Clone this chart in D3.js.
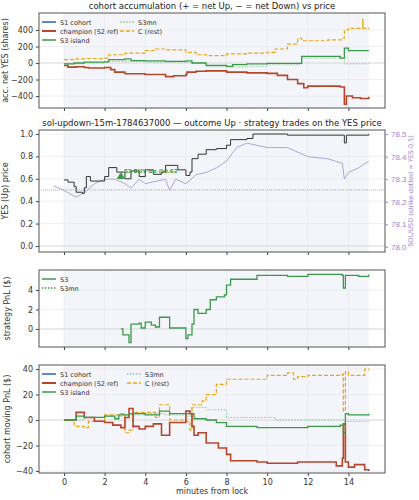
<!DOCTYPE html>
<html><head><meta charset="utf-8">
<script src="https://cdn.jsdelivr.net/npm/d3@7"></script>
<style>body{margin:0;background:#fff;font-family:"DejaVu Sans",sans-serif}</style>
</head><body><svg id="c" width="419" height="500"></svg>
<script>
// ---- data ----
const xTicks=[0,2,4,6,8,10,12,14];
const accChampion=[[0,-30],[0.2,-50],[0.6,-45],[1,-55],[1.2,-60],[2,-55],[2.3,-80],[2.5,-110],[3,-130],[4,-140],[5,-165],[5.4,-155],[6,-140],[6.05,-110],[6.5,-100],[7,-95],[8,-110],[9,-120],[10,-125],[10.5,-150],[11,-200],[11.5,-250],[11.8,-300],[12,-280],[13.6,-290],[13.8,-500],[13.9,-400],[14.2,-420],[14.6,-430],[15,-410]];
const accS3=[[0,-10],[0.5,0],[1,10],[2,15],[2.2,40],[3,50],[3.3,30],[4,25],[5,20],[6,25],[6.3,0],[7,-30],[8,-40],[8.3,-20],[9,-10],[10,-5],[11.6,-5],[11.7,80],[13,80],[13.6,60],[13.8,180],[14,150],[15,150]];
const accS3mn=[[0,-10],[1,0],[2,20],[3,20],[4,10],[6,10],[6.3,0],[7,-30],[8,-50],[9,-40],[10,-20],[11.6,-10],[11.7,60],[13,60],[13.8,-10],[15,-10]];
const accC=[[0,40],[0.5,50],[1,55],[2,60],[2.2,100],[3,120],[4,150],[4.5,170],[5,160],[6,130],[6.5,100],[7,90],[8,110],[9,120],[10,130],[10.4,170],[11,230],[11.5,300],[11.7,270],[13,280],[13.7,300],[13.8,400],[14,420],[14.7,530],[14.72,420],[15,410]];
const yesPrice=[[0,0.59],[0.2,0.57],[0.5,0.53],[0.6,0.48],[0.9,0.47],[1,0.52],[1.1,0.62],[1.3,0.58],[2,0.62],[2.2,0.7],[2.6,0.66],[3,0.6],[3.3,0.67],[3.7,0.62],[4,0.68],[4.4,0.64],[4.8,0.66],[5,0.72],[5.6,0.68],[6,0.63],[6.2,0.66],[6.3,0.78],[6.6,0.82],[7,0.86],[7.5,0.87],[8,0.9],[8.2,0.95],[9,0.96],[9.3,1.0],[11,0.99],[12,0.99],[13.8,0.92],[13.9,0.99],[15,1.0]];
const solPrice=[[-0.5,78.27],[0,78.25],[0.6,78.22],[1,78.24],[1.5,78.28],[2,78.3],[2.5,78.3],[3,78.28],[3.3,78.26],[3.7,78.3],[4,78.28],[5,78.3],[5.2,78.25],[5.5,78.3],[6,78.28],[6.5,78.32],[7,78.33],[7.5,78.35],[8,78.38],[8.5,78.44],[9,78.46],[9.5,78.45],[10,78.44],[11,78.44],[11.5,78.42],[12,78.4],[13,78.39],[13.7,78.37],[13.8,78.3],[14,78.33],[14.5,78.35],[15,78.38]];
const trades=[{t:2.8,p:0.62,label:"S3 BUY Up @0.62"}];
const pnlS3=[[2.8,0],[2.9,-0.6],[3.2,-1.4],[3.3,0.5],[3.7,0.6],[3.8,0.1],[4,0.7],[4.3,0.4],[4.5,0.2],[4.7,1.2],[5.1,1.2],[5.2,0.1],[5.8,0.1],[6,-1.0],[6.1,-0.6],[6.3,0.5],[6.4,2.0],[6.6,1.6],[7,2.0],[7.2,3.0],[7.5,3.3],[7.9,3.5],[8,4.5],[8.2,5.1],[9.5,5.5],[11,5.4],[12,5.6],[13.7,5.5],[13.75,4.2],[13.85,5.5],[14.5,5.4],[15,5.6]];
const mpChampion=[[0,0],[0.6,6],[1,2],[1.5,-1],[2,-2],[2.4,-4],[2.8,-6],[3,2],[3.2,9],[3.4,-5],[3.7,-7],[4,-5],[4.4,-3],[4.8,-12],[5.2,-2],[6,7],[6.2,5],[6.3,-5],[6.4,-12],[6.6,-10],[7,-18],[7.6,-22],[8,-27],[8.2,-32],[9.5,-33],[10,-34],[11.5,-33],[12.5,-33],[13.4,-36],[13.7,-30],[13.75,-3],[13.85,-33],[14,-37],[14.3,-35],[14.8,-39],[15,-40]];
const mpS3=[[0,0],[0.6,3],[1,2],[2,3],[2.5,1],[2.7,4],[3.2,5],[4,4],[4.7,7],[5.2,5],[6,5],[6.4,1],[7,0],[7.5,-2],[8,-5],[9.5,-6],[12,-5],[13.6,-4],[13.75,-10],[13.85,5],[14,4],[15,5]];
const mpS3mn=[[0,0],[1,2],[2,3],[3,4],[4,5],[5,4],[6,3],[6.3,10],[7,8],[8,2],[10,2],[10.4,0],[12,0],[13.8,-1],[15,-1]];
const mpC=[[0,0],[0.5,-5],[1,-6],[1.2,-1],[2,4],[2.8,5],[3,-10],[3.2,-8],[3.4,6],[4,6],[4.5,2],[4.7,12],[5.2,0],[6,-1],[6.2,-8],[6.3,12],[6.8,15],[7,20],[7.5,28],[8,32],[9,32],[10,35],[11,37],[11.3,32],[11.5,34],[12,35],[13.7,36],[13.75,7],[13.85,38],[14,35],[14.8,40],[15,39]];

// ---- drawing ----
const svg=d3.select("#c");
const L=39,R=385;
const x=d3.scaleLinear().domain([-1.23,15.8]).range([L,R]);
const COL={s1:"#2f5fb0",ch:"#b5462a",s3:"#3a9a4a",s3mn:"#8fc99a",c:"#e6a817"};
function panel(top,bot,dom,ticks,fmt){
  const y=d3.scaleLinear().domain(dom).range([bot,top]);
  const g=svg.append("g");
  g.append("rect").attr("x",x(0)).attr("width",x(15)-x(0)).attr("y",top).attr("height",bot-top).attr("fill","#f4f5fa");
  xTicks.forEach(t=>g.append("line").attr("x1",x(t)).attr("x2",x(t)).attr("y1",top).attr("y2",bot).attr("stroke","#e6e6ea").attr("stroke-width",0.6));
  ticks.forEach(t=>g.append("line").attr("x1",L).attr("x2",R).attr("y1",y(t)).attr("y2",y(t)).attr("stroke","#e6e6ea").attr("stroke-width",0.6));
  g.append("line").attr("x1",L).attr("x2",R).attr("y1",y(0)).attr("y2",y(0)).attr("stroke","#ddd").attr("stroke-width",1);
  const ay=g.append("g").attr("transform",`translate(${L},0)`).call(d3.axisLeft(y).tickValues(ticks).tickSize(3).tickFormat(fmt||(d=>d3.format("")(d).replace("-","\u2212"))));
  const ax=g.append("g").attr("transform",`translate(0,${bot})`).call(d3.axisBottom(x).tickValues(xTicks).tickSize(3).tickFormat(""));
  [ay,ax].forEach(a=>{a.select(".domain").remove();a.selectAll("text").attr("font-size",8).attr("fill","#333").attr("font-family","DejaVu Sans");a.selectAll("line").attr("stroke","#444");});
  g.append("rect").attr("x",L).attr("y",top).attr("width",R-L).attr("height",bot-top).attr("fill","none").attr("stroke","#555").attr("stroke-width",1);
  return {g,y,ax};
}
function line(g,y,data,col,w,dash,curve){
  g.append("path").datum(data).attr("fill","none").attr("stroke",col).attr("stroke-width",w).attr("stroke-dasharray",dash||null)
   .attr("d",d3.line().x(d=>x(d[0])).y(d=>y(d[1])).curve(curve||d3.curveStepAfter));
}
function ylabel(txt,top,bot,xx,col){
  svg.append("text").attr("transform",`translate(${xx},${(top+bot)/2}) rotate(-90)`).attr("text-anchor","middle").attr("font-size",8).attr("fill",col||"#333").text(txt);
}
function title(txt,yy){svg.append("text").attr("x",(L+R)/2).attr("y",yy).attr("text-anchor","middle").attr("font-size",8.5).attr("fill","#222").text(txt);}
function legend(g,items,x0,y0,colX){
  items.forEach((it,i)=>{
    const cx=x0+(it.col||0)*colX, cy=y0+(it.row)*9;
    g.append("line").attr("x1",cx).attr("x2",cx+14).attr("y1",cy).attr("y2",cy).attr("stroke",it.c).attr("stroke-width",it.w||1.5).attr("stroke-dasharray",it.d||null);
    g.append("text").attr("x",cx+18).attr("y",cy+2.5).attr("font-size",6.5).attr("fill","#333").text(it.t);
  });
}
const cohortLeg=[{t:"S1 cohort",c:COL.s1,row:0},{t:"champion (S2 ref)",c:COL.ch,row:1,w:2},{t:"S3 island",c:COL.s3,row:2},
  {t:"S3mn",c:COL.s3mn,row:0,col:1,d:"1.5,1.5"},{t:"C (rest)",c:COL.c,row:1,col:1,d:"4,2"}];

// panel 1
title("cohort accumulation (+ = net Up, \u2212 = net Down) vs price",9);
let p=panel(13,108,[-545,606],[-400,-200,0,200,400]);
line(p.g,p.y,accS3mn,COL.s3mn,1,"1.5,1.5");
line(p.g,p.y,accC,COL.c,1.2,"4,2");
line(p.g,p.y,accChampion,COL.ch,1.6);
line(p.g,p.y,accS3,COL.s3,1.3);
legend(p.g,cohortLeg,42,22,78);
ylabel("acc. net YES (shares)",13,108,8);

// panel 2
title("sol-updown-15m-1784637000 \u2014 outcome Up \u00b7 strategy trades on the YES price",126);
p=panel(130,252,[-0.054,1.036],[0,0.2,0.4,0.6,0.8,1.0],d3.format(".1f"));
const yr=d3.scaleLinear().domain([77.977,78.518]).range([252,130]);
p.g.append("line").attr("x1",L).attr("x2",R).attr("y1",p.y(0.5)).attr("y2",p.y(0.5)).attr("stroke","#aaa").attr("stroke-dasharray","1,1");
line(p.g,yr,solPrice,"#b3a3d6",1,null,d3.curveLinear);
line(p.g,p.y,yesPrice,"#333",1);
trades.forEach(d=>{
  p.g.append("path").attr("d",d3.symbol(d3.symbolTriangle,30)()).attr("transform",`translate(${x(d.t)},${p.y(d.p)})`).attr("fill",COL.s3);
  p.g.append("text").attr("x",x(d.t)+3).attr("y",p.y(d.p)-4).attr("font-size",5.5).attr("font-weight","bold").attr("fill",COL.s3).text(d.label);
});
const ar=p.g.append("g").attr("transform",`translate(${R},0)`).call(d3.axisRight(yr).tickValues([78.0,78.1,78.2,78.3,78.4,78.5]).tickSize(3).tickFormat(d3.format(".1f")));
ar.select(".domain").remove();ar.selectAll("text").attr("font-size",8).attr("fill","#9a86c8");ar.selectAll("line").attr("stroke","#9a86c8");
ylabel("YES (Up) price",130,252,8);
svg.append("text").attr("transform",`translate(413,191) rotate(-90)`).attr("text-anchor","middle").attr("font-size",6.5).attr("fill","#9a86c8").text("SOL/USD (strike dotted = YES 0.5)");

// panel 3
p=panel(270,347,[-1.85,6.05],[0,2,4]);
line(p.g,p.y,pnlS3,COL.s3,1.3);
legend(p.g,[{t:"S3",c:COL.s3,row:0},{t:"S3mn",c:COL.s3,row:1,d:"1.5,1.5"}],42,279,0);
ylabel("strategy PnL ($)",270,347,10);

// panel 4
p=panel(365,473,[-41.6,43.2],[-40,-20,0,20,40]);
line(p.g,p.y,mpS3mn,COL.s3mn,1,"1.5,1.5");
line(p.g,p.y,mpC,COL.c,1.2,"4,2");
line(p.g,p.y,mpChampion,COL.ch,1.6);
line(p.g,p.y,mpS3,COL.s3,1.3);
legend(p.g,cohortLeg,42,374,85);
p.ax.call(d3.axisBottom(x).tickValues(xTicks).tickSize(3));
p.ax.select(".domain").remove();p.ax.selectAll("text").attr("font-size",8).attr("fill","#333");p.ax.selectAll("line").attr("stroke","#444");
ylabel("cohort moving PnL ($)",365,473,10);
svg.append("text").attr("x",(L+R)/2).attr("y",494).attr("text-anchor","middle").attr("font-size",8).attr("fill","#333").text("minutes from lock");
</script></body></html>
